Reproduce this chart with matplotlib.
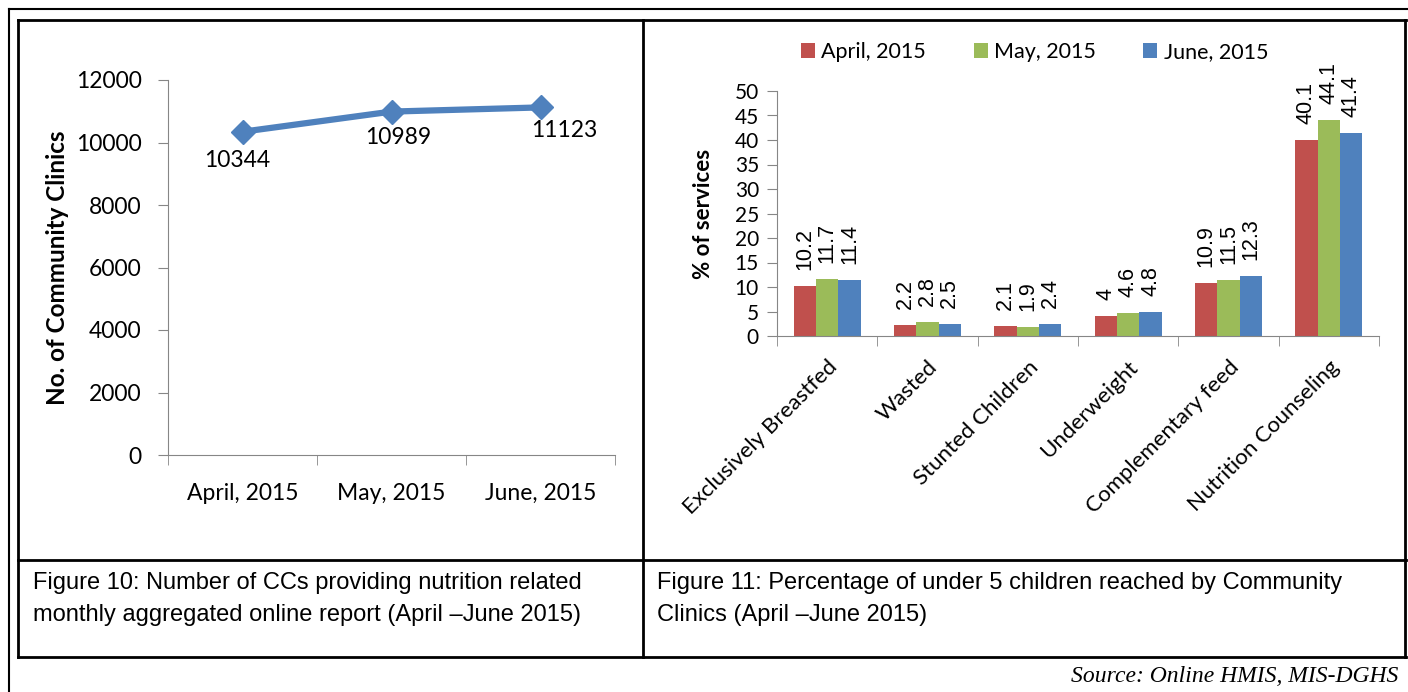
import matplotlib
matplotlib.use("Agg")
import matplotlib.pyplot as plt
from matplotlib.lines import Line2D
import numpy as np

# ---- data ----
months = ["April, 2015", "May, 2015", "June, 2015"]
clinics = [10344, 10989, 11123]

categories = ["Exclusively Breastfed", "Wasted", "Stunted Children",
              "Underweight", "Complementary feed", "Nutrition Counseling"]
april = [10.2, 2.2, 2.1, 4, 10.9, 40.1]
may = [11.7, 2.8, 1.9, 4.6, 11.5, 44.1]
june = [11.4, 2.5, 2.4, 4.8, 12.3, 41.4]
series_names = ["April, 2015", "May, 2015", "June, 2015"]
series_colors = ["#C0504D", "#9BBB59", "#4F81BD"]

W, H = 1408, 692
plt.rcParams['font.family'] = ['Lato', 'DejaVu Sans']
fig = plt.figure(figsize=(W / 100, H / 100), dpi=100)

def fx(px):
    return px / W

def fy(py):
    return 1 - py / H

def hline(y, x0, x1, lw=2):
    fig.add_artist(Line2D([fx(x0), fx(x1)], [fy(y), fy(y)], color="black", lw=lw,
                          transform=fig.transFigure))

def vline(x, y0, y1, lw=2):
    fig.add_artist(Line2D([fx(x), fx(x)], [fy(y0), fy(y1)], color="black", lw=lw,
                          transform=fig.transFigure))

# outer frame
hline(9, 9, 1408, lw=1.5)
vline(9, 9, 692, lw=1.5)
# inner table
hline(20, 18, 1406)
hline(560, 18, 1406)
hline(657, 18, 1406)
vline(18, 20, 657)
vline(643, 20, 657)
vline(1405, 20, 657)

grey = "#868686"

# ---- left chart ----
ax1 = fig.add_axes([fx(168), fy(455), fx(615) - fx(168), fy(80) - fy(455)])
x = np.arange(len(months))
ax1.plot(x, clinics, color="#4F81BD", lw=4.5, marker="D", ms=12,
         markerfacecolor="#4F81BD", markeredgecolor="#4F81BD")
ax1.set_xlim(-0.5, len(months) - 0.5)
ax1.set_ylim(0, 12000)
ax1.set_yticks(np.arange(0, 12001, 2000))
ax1.set_xticks(x)
ax1.set_xticklabels(months, fontsize=16.5)
ax1.tick_params(axis="x", length=0, pad=20)
ax1.set_xticks(np.arange(-0.5, len(months), 1), minor=True)
ax1.tick_params(axis="x", which="minor", length=7, color=grey, direction="out")
ax1.tick_params(axis="y", labelsize=16.5, length=7, color=grey, pad=12)
for s in ["top", "right"]:
    ax1.spines[s].set_visible(False)
for s in ["left", "bottom"]:
    ax1.spines[s].set_color(grey)
ax1.set_ylabel("No. of Community Clinics", fontsize=17.5, fontweight="bold", labelpad=5)
offsets_px = [(-5, -29), (7, -26), (24, -23)]
for xi, v, off in zip(x, clinics, offsets_px):
    ax1.annotate(str(v), (xi, v), xytext=off, textcoords="offset pixels",
                 ha="center", va="center", fontsize=16.5)

# ---- right chart ----
ax2 = fig.add_axes([fx(777), fy(336), fx(1379) - fx(777), fy(91) - fy(336)])
xc = np.arange(len(categories))
bw = 0.223
for i, (vals, name, col) in enumerate(zip([april, may, june], series_names, series_colors)):
    pos = xc + (i - 1) * bw
    ax2.bar(pos, vals, width=bw, color=col, label=name)
    for p, v in zip(pos, vals):
        ax2.annotate(f"{v:g}", (p, v), xytext=(0, 16), textcoords="offset pixels",
                     rotation=90, ha="center", va="bottom", fontsize=15.5,
                     family=['Liberation Sans', 'DejaVu Sans'])
ax2.set_xlim(-0.5, len(categories) - 0.5)
ax2.set_ylim(0, 50)
ax2.set_yticks(np.arange(0, 51, 5))
ax2.tick_params(axis="y", labelsize=15, length=7, color=grey, pad=6)
ax2.set_xticks(xc)
ax2.set_xticklabels(categories, rotation=45, ha="right", rotation_mode="anchor", fontsize=16)
ax2.tick_params(axis="x", length=0, pad=15)
ax2.set_xticks(np.arange(-0.5, len(categories), 1), minor=True)
ax2.tick_params(axis="x", which="minor", length=7, color=grey)
for s in ["top", "right"]:
    ax2.spines[s].set_visible(False)
for s in ["left", "bottom"]:
    ax2.spines[s].set_color(grey)
ax2.set_ylabel("% of services", fontsize=16, fontweight="bold", labelpad=15)
ax2.legend(loc="center left", bbox_to_anchor=(fx(801), fy(52)),
           bbox_transform=fig.transFigure, ncol=3, frameon=False,
           fontsize=15.5, handlelength=0.65, handleheight=0.65, columnspacing=2.2,
           handletextpad=0.3, borderpad=0, borderaxespad=0)

# ---- captions ----
cap_font = ['Liberation Sans', 'DejaVu Sans']
fig.text(fx(33), fy(583), "Figure 10: Number of CCs providing nutrition related",
         fontsize=17, family=cap_font, va="center", ha="left")
fig.text(fx(33), fy(615), "monthly aggregated online report (April \u2013June 2015)",
         fontsize=17, family=cap_font, va="center", ha="left")
fig.text(fx(657), fy(583), "Figure 11: Percentage of under 5 children reached by Community",
         fontsize=17, family=cap_font, va="center", ha="left")
fig.text(fx(657), fy(615), "Clinics (April \u2013June 2015)",
         fontsize=17, family=cap_font, va="center", ha="left")
fig.text(fx(1398), fy(677), "Source: Online HMIS, MIS-DGHS",
         fontsize=17, family=['Liberation Serif', 'DejaVu Serif'], style="italic",
         va="center", ha="right")

fig.savefig("out.png", dpi=100)
